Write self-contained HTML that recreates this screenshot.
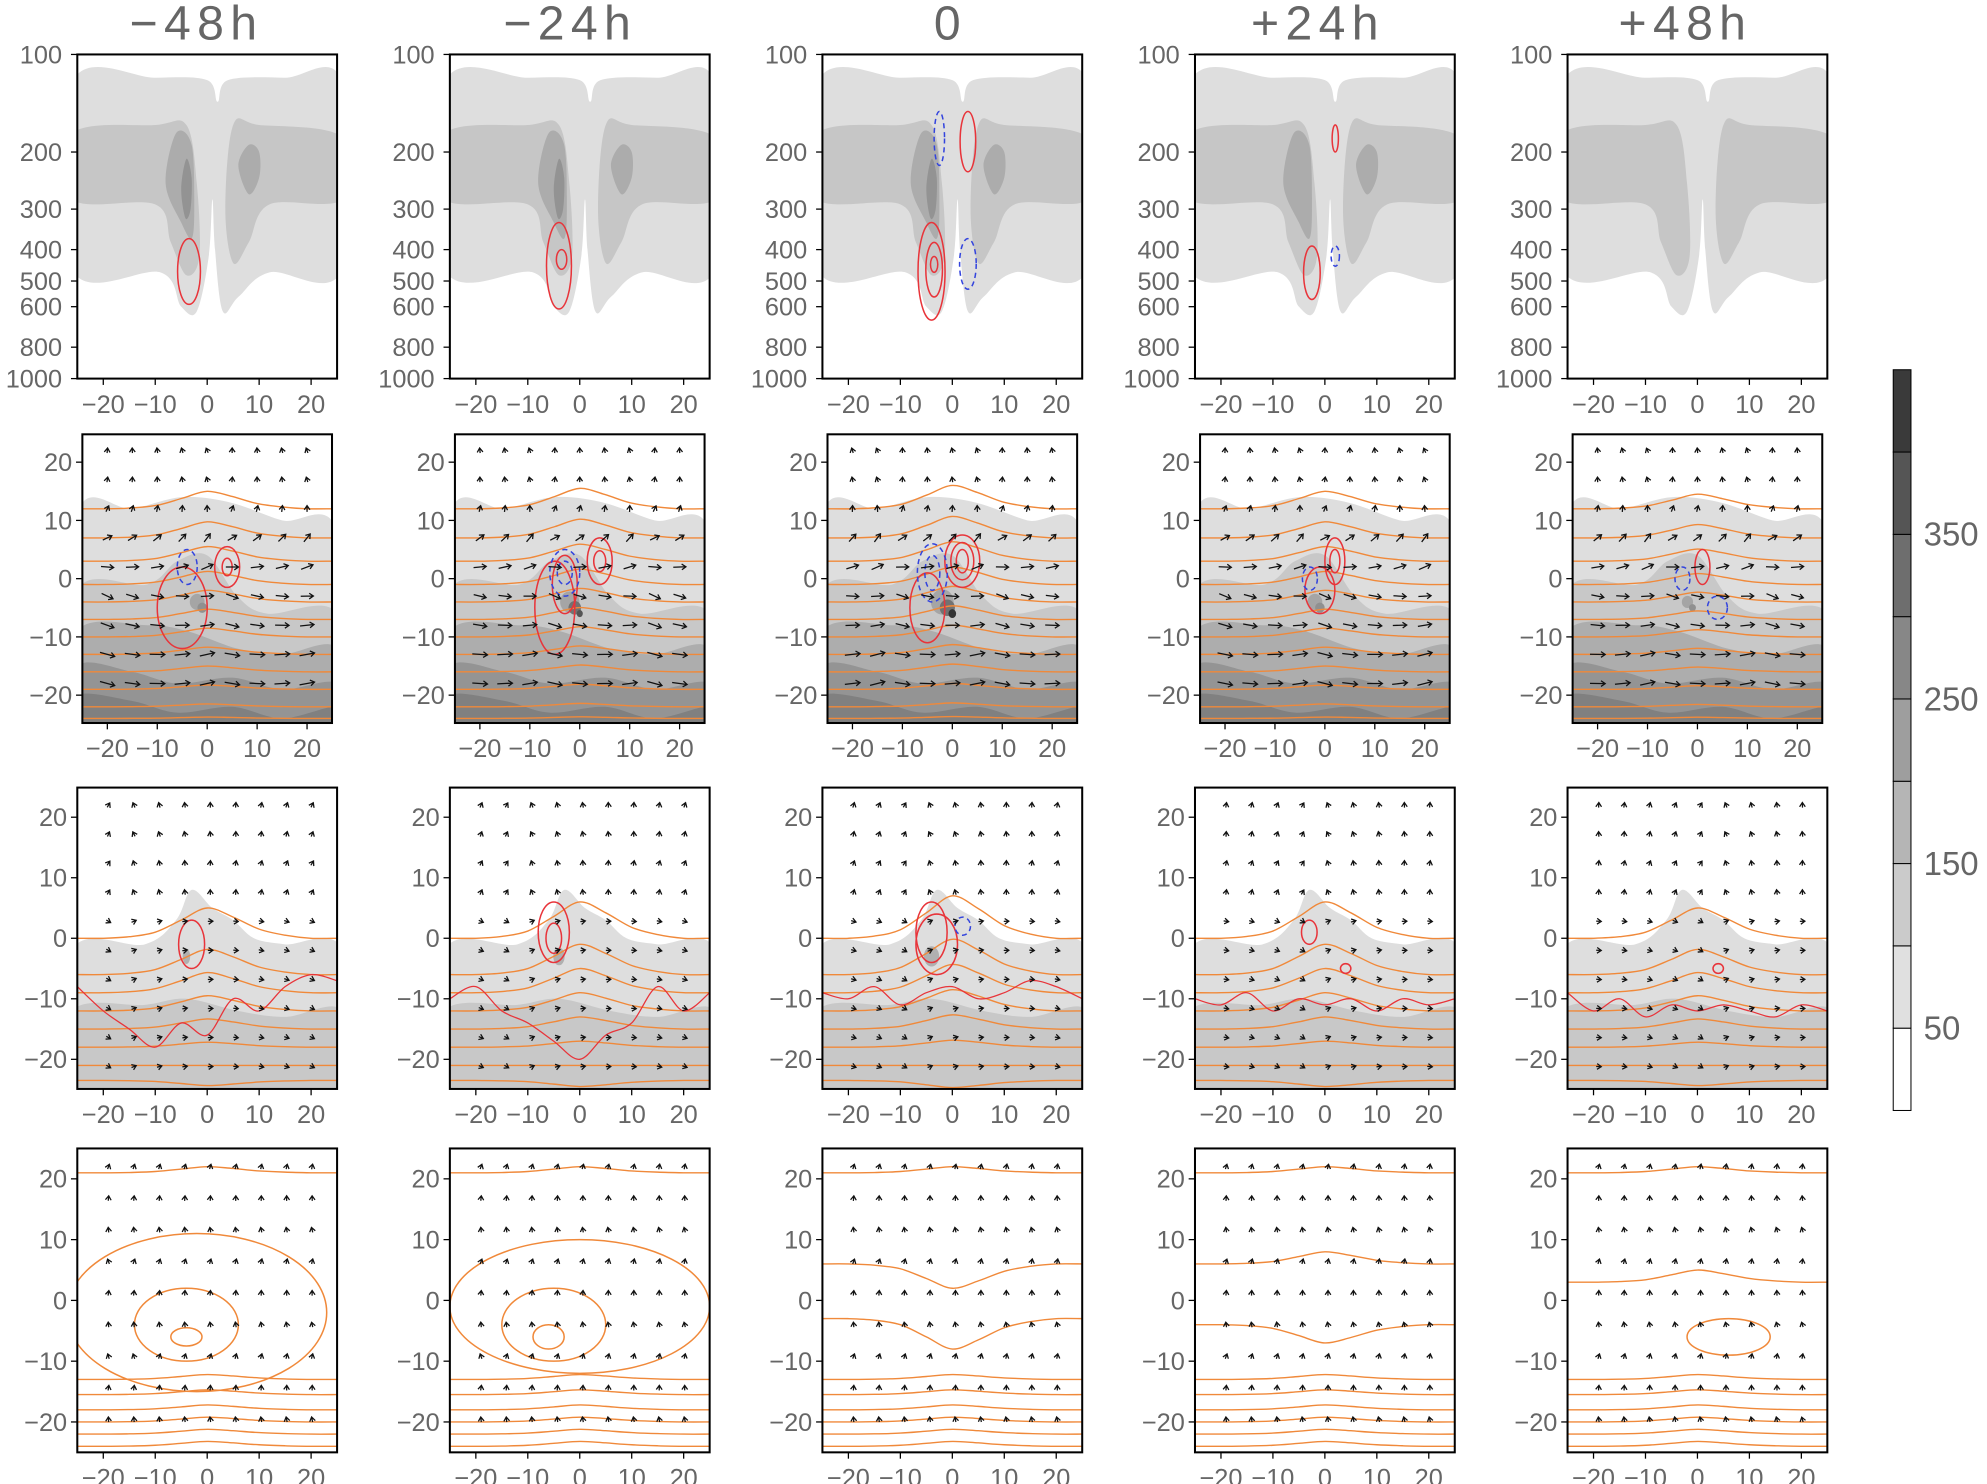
<!DOCTYPE html>
<html><head><meta charset="utf-8"><style>
html,body{margin:0;padding:0;background:#fff;width:1987px;height:1484px;overflow:hidden}
svg{display:block}
text{font-family:"Liberation Sans","DejaVu Sans",sans-serif;fill:#666}
</style></head><body>
<svg id="fig" xmlns="http://www.w3.org/2000/svg" width="1987" height="1484" viewBox="0 0 1568 1172" preserveAspectRatio="none"></svg>
<script>
// ---------- data ----------
const titles = ["\u221248h","\u221224h","0","+24h","+48h"];
const pressureTicks = [100,200,300,400,500,600,800,1000];
const xTicks = [-20,-10,0,10,20];
const xTickLabels = ["\u221220","\u221210","0","10","20"];
const yTicks = [20,10,0,-10,-20];
const yTickLabels = ["20","10","0","\u221210","\u221220"];
const cbLevels = [50,150,250,350];
const cbShades = ["#ffffff","#e0e0e0","#cbcbcb","#b5b5b5","#9e9e9e","#878787","#6e6e6e","#555555","#3a3a3a"];
const r1Core = [0.8,0.9,1.0,0.6,0.0];
const r1Red = [
 [[-3.5,370,590,2.2]],
 [[-4,330,610,2.4],[-3.5,400,460,1]],
 [[-4,330,660,2.6],[-3.5,380,560,1.6],[-3.5,420,470,0.7],[3,150,230,1.5]],
 [[-2.5,390,570,1.6],[2,165,200,0.6]],
 []
];
const r1Blue = [[],[],[[-2.5,150,220,1],[3,370,530,1.6]],[[2,390,450,0.8]],[]];
const r2Blob = [0.55,0.8,1.0,0.55,0.35];
const r2Levels = [12,7,3,-1,-4,-7,-10,-13,-16,-19,-22,-24];
const r2Amp = [3,3.5,4,3,2.5];
const bumpX = [-25,-20,-15,-10,-5,0,5,10,15,20,25];
const bumpProfile = [0,0,0.05,0.2,0.6,1,0.7,0.3,0.1,0,0];
const r2Red = [
 [[4,2,2.5,3.5],[4,2,1,1.5],[-5,-5,5,7]],
 [[4,3,2.5,4],[4,3,1.2,1.8],[-5,-5,4,8],[-3,-1,2.5,5]],
 [[2,3,3.5,4.5],[2,3,2.3,3.2],[2,3,1.2,2],[-5,-5,3.5,6]],
 [[2,3,2,4],[2,3,1,2],[-1,-2,3,4]],
 [[1,2,1.5,3]]
];
const r2Blue = [[[-4,2,2,3]],[[-3,1,3,4],[-3,1,1.5,2]],[[-4,1,3,5],[-4,1,1.5,3]],[[-3,0,1.5,2]],[[-3,0,1.5,2],[4,-5,2,2]]];
const r2Angles = [100,95,80,40,10,-10,-5,0,0];
const r2Len = [4,4,5,8,10,10,11,12,12];
const r3Levels = [0,-6,-9,-12,-15,-18,-21,-23.5];
const r3Amp = [5,6,7,6,5];
const r3Red = [[[-3,-1,2.5,4]],[[-5,1,3,5],[-5,0,1.5,2.5]],[[-4,1,3,5],[-3,-1,4,5]],[[-3,1,1.5,2],[4,-5,1,0.8]],[[4,-5,1,0.8]]];
const r3Blue = [[],[],[[2,2,1.5,1.5]],[],[]];
const r3Angles = [90,95,85,90,0,0,0,0,0,0];
const r3WigX = [-25,-20,-15,-10,-5,0,5,10,15,20,25];
const r3WigY = [
 [-8,-12,-15,-18,-14,-16,-10,-12,-8,-6,-7],
 [-10,-8,-12,-14,-17,-20,-16,-14,-8,-12,-9],
 [-9,-10,-8,-11,-9,-8,-10,-9,-7,-8,-10],
 [-10,-11,-9,-12,-10,-11,-10,-12,-10,-11,-10],
 [-9,-12,-10,-13,-11,-12,-11,-12,-13,-11,-12]
];
const r4Levels = [21,-13,-15.5,-18,-20,-22,-24];
const r4Loops = [
 [[-4,-6,3,1.5],[-4,-4,10,6],[-2,-2,25,13]],
 [[-6,-6,3,2],[-5,-4,10,6],[0,-1,25,11]],
 [],
 [],
 [[6,-6,8,3]]
];
const r4Waves = [
 [],
 [],
 [[6,4],[-3,5]],
 [[6,-2],[-4,3]],
 [[3,-2]]
];
const r4Angles = [90,90,90,90,90,90,90,90,90];

// ---------- helpers ----------
const NS="http://www.w3.org/2000/svg";
const svg=document.getElementById('fig');
function mk(tag,parent){const e=document.createElementNS(NS,tag);parent.appendChild(e);return e;}
function smooth(pts,closed){
  if(closed){pts=pts.concat([pts[0]]);}
  let d="M"+pts[0][0].toFixed(1)+","+pts[0][1].toFixed(1);
  for(let i=0;i<pts.length-1;i++){
    const p0=pts[i-1]||(closed?pts[pts.length-2]:pts[i]),p1=pts[i],p2=pts[i+1],p3=pts[i+2]||(closed?pts[1]:p2);
    d+="C"+(p1[0]+(p2[0]-p0[0])/6).toFixed(1)+","+(p1[1]+(p2[1]-p0[1])/6).toFixed(1)+" "+(p2[0]-(p3[0]-p1[0])/6).toFixed(1)+","+(p2[1]-(p3[1]-p1[1])/6).toFixed(1)+" "+p2[0].toFixed(1)+","+p2[1].toFixed(1);
  }
  return d+(closed?"Z":"");
}
function txt(parent,x,y,s,size,anchor){const t=mk('text',parent);t.setAttribute('x',x);t.setAttribute('y',y);t.setAttribute('font-size',size);t.setAttribute('text-anchor',anchor);t.textContent=s;return t;}
function ell(parent,cx,cy,rx,ry,col,dash){const e=mk('ellipse',parent);e.setAttribute('cx',cx);e.setAttribute('cy',cy);e.setAttribute('rx',Math.abs(rx));e.setAttribute('ry',Math.abs(ry));e.setAttribute('fill','none');e.setAttribute('stroke',col);e.setAttribute('stroke-width',1.2);if(dash)e.setAttribute('stroke-dasharray','4 3');return e;}
function chevron(parent,x,y,ang,len){
  const a=-ang*Math.PI/180;
  const tx=x+Math.cos(a)*len/2,ty=y+Math.sin(a)*len/2,bx=x-Math.cos(a)*len/2,by=y-Math.sin(a)*len/2;
  const h=4,w=0.6;
  const l1=[tx-h*Math.cos(a-w),ty-h*Math.sin(a-w)],l2=[tx-h*Math.cos(a+w),ty-h*Math.sin(a+w)];
  const p=mk('path',parent);
  p.setAttribute('d',`M${bx.toFixed(1)},${by.toFixed(1)}L${tx.toFixed(1)},${ty.toFixed(1)}M${l1[0].toFixed(1)},${l1[1].toFixed(1)}L${tx.toFixed(1)},${ty.toFixed(1)}L${l2[0].toFixed(1)},${l2[1].toFixed(1)}`);
  p.setAttribute('stroke','#111');p.setAttribute('stroke-width',1);p.setAttribute('fill','none');
  return p;
}

const titleX=[155,450,750,1040,1330];
titles.forEach((t,c)=>{
  const e=txt(svg,titleX[c],31,t,38,'middle');
  e.setAttribute('letter-spacing','5');
  
  
});

function frame(g,left,top,w,h){
  const r=mk('rect',g);r.setAttribute('x',left);r.setAttribute('y',top);r.setAttribute('width',w);r.setAttribute('height',h);r.setAttribute('fill','none');r.setAttribute('stroke','#000');r.setAttribute('stroke-width',1.6);
  
  
}
function xAxis(g,xs,bottom){
  xTicks.forEach((v,i)=>{
    const l=mk('line',g);l.setAttribute('x1',xs(v));l.setAttribute('x2',xs(v));l.setAttribute('y1',bottom);l.setAttribute('y2',bottom+5);l.setAttribute('stroke','#000');
    const t=txt(g,xs(v),bottom+27,xTickLabels[i],20,'middle');
    
    
  });
}
function yAxis(g,ys,left){
  yTicks.forEach((v,i)=>{
    const l=mk('line',g);l.setAttribute('x1',left-5);l.setAttribute('x2',left);l.setAttribute('y1',ys(v));l.setAttribute('y2',ys(v));l.setAttribute('stroke','#000');
    const t=txt(g,left-8,ys(v)+7,yTickLabels[i],20,'end');
    
    
  });
}
function clip(id,left,top,w,h){
  const cp=mk('clipPath',svg);cp.setAttribute('id',id);
  const r=mk('rect',cp);r.setAttribute('x',left);r.setAttribute('y',top);r.setAttribute('width',w);r.setAttribute('height',h);
}
function fillPath(g,pts,col){const p=mk('path',g);p.setAttribute('d',smooth(pts,true));p.setAttribute('fill',col);p.setAttribute('stroke','none');return p;}
function line(g,pts,col,wd){const p=mk('path',g);p.setAttribute('d',smooth(pts,false));p.setAttribute('fill','none');p.setAttribute('stroke',col);p.setAttribute('stroke-width',wd||1.1);return p;}

// ---------- row 1 ----------
for(let c=0;c<5;c++){
  const left=61+294*c,top=43,w=205,h=256;
  const xs=x=>left+102.5+x*4.1, ys=p=>top+(Math.log10(p)-2)*256;
  clip('c1'+c,left,top,w,h);
  const g=mk('g',svg);
  const s=mk('g',g);s.setAttribute('clip-path','url(#c1'+c+')');
  const P=(x,p)=>[xs(x),ys(p)];
  fillPath(s,[P(-26,122),P(-10,118),P(0,120),P(2,140),P(4,120),P(15,118),P(26,122),P(26,460),P(12,470),P(6,560),P(3,620),P(1.5,400),P(1,280),P(0.3,420),P(-2,620),P(-5,600),P(-9,470),P(-26,460)],'#dedede');
  fillPath(s,[P(-26,175),P(-10,165),P(-4,165),P(-2,250),P(-1.5,420),P(-4,480),P(-7,380),P(-10,290),P(-26,280)],'#c6c6c6');
  fillPath(s,[P(5,165),P(10,165),P(26,180),P(26,280),P(12,290),P(8,380),P(5,440),P(3.5,300)],'#c6c6c6');
  if(r1Core[c]>0){
    const k=r1Core[c];
    fillPath(s,[P(-6,175),P(-3,190),P(-2.5,300),P(-3,370),P(-5,330),P(-8,250)],'#acacac');
    fillPath(s,[P(-4,210),P(-3,240),P(-3.2,300),P(-4.2,320),P(-5,260)],k>0.7?'#939393':'#acacac');
    fillPath(s,[P(6,220),P(8,190),P(10,200),P(10,240),P(8,270)],'#acacac');
  }
  r1Red[c].forEach(e=>{const r=ell(s,xs(e[0]),(ys(e[1])+ys(e[2]))/2,e[3]*4.1,(ys(e[2])-ys(e[1]))/2,'#e8343a');});
  r1Blue[c].forEach(e=>{const r=ell(s,xs(e[0]),(ys(e[1])+ys(e[2]))/2,e[3]*4.1,(ys(e[2])-ys(e[1]))/2,'#3344dd',true);});
  frame(g,left,top,w,h);
  xAxis(g,xs,top+h);
  pressureTicks.forEach(p=>{
    const l=mk('line',g);l.setAttribute('x1',left-5);l.setAttribute('x2',left);l.setAttribute('y1',ys(p));l.setAttribute('y2',ys(p));l.setAttribute('stroke','#000');
    const t=txt(g,left-12,ys(p)+7,String(p),20,'end');
    
    
  });
}

// ---------- row 2 ----------
for(let c=0;c<5;c++){
  const left=65+294*c,top=343,w=197,h=228;
  const xs=x=>left+98.5+x*3.94, ys=y=>457-y*4.6;
  clip('c2'+c,left,top,w,h);
  const g=mk('g',svg);
  const s=mk('g',g);s.setAttribute('clip-path','url(#c2'+c+')');
  const P=(x,y)=>[xs(x),ys(y)];
  fillPath(s,[P(-26,11),P(-15,12),P(-5,14),P(5,13),P(15,10),P(26,8),P(26,-26),P(-26,-26)],'#dedede');
  fillPath(s,[P(-26,-2),P(-12,-1),P(-6,3),P(0,4),P(6,-3),P(12,-6),P(26,-6),P(26,-26),P(-26,-26)],'#c8c8c8');
  fillPath(s,[P(-26,-9),P(-12,-8),P(-4,-9),P(6,-12),P(15,-13),P(26,-12),P(26,-26),P(-26,-26)],'#adadad');
  fillPath(s,[P(-26,-15),P(-15,-16),P(-6,-18),P(5,-17),P(15,-19),P(26,-18),P(26,-26),P(-26,-26)],'#949494');
  fillPath(s,[P(-26,-20),P(-15,-21),P(-6,-23),P(5,-22),P(15,-24),P(26,-22),P(26,-26),P(-26,-26)],'#808080');
  const k=r2Blob[c];
  ell(s,xs(-2),ys(-4),7*k+2,8*k+2,'none').setAttribute('fill','#a5a5a5');
  ell(s,xs(-1),ys(-5),5*k+1,5.5*k+1,'none').setAttribute('fill',k>0.7?'#727272':'#909090');
  if(k>0.7){ell(s,xs(0),ys(-6),3*k,3.5*k,'none').setAttribute('fill',k>0.9?'#333':'#555');}
  r2Levels.forEach((lv,i)=>{
    const pts=bumpX.map((x,j)=>P(x,lv+r2Amp[c]*bumpProfile[j]*(1-i/12)));
    const l=line(s,pts,'#f0893a');
    
    
  });
  r2Red[c].forEach(e=>{const r=ell(s,xs(e[0]),ys(e[1]),e[2]*3.94,e[3]*4.6,'#e8343a');});
  r2Blue[c].forEach(e=>{const r=ell(s,xs(e[0]),ys(e[1]),e[2]*3.94,e[3]*4.6,'#3344dd',true);});
  for(let j=0;j<9;j++)for(let i=0;i<9;i++){
    const a=chevron(s,xs(-20+i*5),ys(22-j*5),r2Angles[j]+((i*37+c*11)%30-15),r2Len[j]);
    
    
  }
  frame(g,left,top,w,h);xAxis(g,xs,top+h);yAxis(g,ys,left);
}

// ---------- row 3 ----------
for(let c=0;c<5;c++){
  const left=61+294*c,top=622,w=205,h=238;
  const xs=x=>left+102.5+x*4.1, ys=y=>741-y*4.78;
  clip('c3'+c,left,top,w,h);
  const g=mk('g',svg);
  const s=mk('g',g);s.setAttribute('clip-path','url(#c3'+c+')');
  const P=(x,y)=>[xs(x),ys(y)];
  fillPath(s,[P(-26,-2),P(-12,-1),P(-6,3),P(-3,8),P(1,5),P(5,3),P(9,0),P(15,-1),P(26,-2),P(26,-26),P(-26,-26)],'#dedede');
  fillPath(s,[P(-26,-12),P(-12,-11),P(-4,-10),P(6,-12),P(15,-13),P(26,-12),P(26,-26),P(-26,-26)],'#c8c8c8');
  if(c<3){ell(s,xs(-4),ys(-3),3+c*1.5,6+c,'none').setAttribute('fill','#b0b0b0');}
  r3Levels.forEach((lv,i)=>{
    const pts=bumpX.map((x,j)=>P(x,lv+r3Amp[c]*bumpProfile[j]*(1-i/6)));
    const l=line(s,pts,'#f0893a');
    
    
  });
  const wig=line(s,r3WigX.map((x,j)=>P(x,r3WigY[c][j])),'#e8343a',1);
  
  
  r3Red[c].forEach(e=>{const r=ell(s,xs(e[0]),ys(e[1]),e[2]*4.1,e[3]*4.78,'#e8343a');});
  r3Blue[c].forEach(e=>{const r=ell(s,xs(e[0]),ys(e[1]),e[2]*4.1,e[3]*4.78,'#3344dd',true);});
  for(let j=0;j<10;j++)for(let i=0;i<9;i++){
    const a=chevron(s,xs(-19+i*4.9),ys(22-j*4.8),r3Angles[j]+((i*53+c*7)%60-30),4);
    
    
  }
  frame(g,left,top,w,h);xAxis(g,xs,top+h);yAxis(g,ys,left);
}

// ---------- row 4 ----------
for(let c=0;c<5;c++){
  const left=61+294*c,top=907,w=205,h=240;
  const xs=x=>left+102.5+x*4.1, ys=y=>1027-y*4.8;
  clip('c4'+c,left,top,w,h);
  const g=mk('g',svg);
  const s=mk('g',g);s.setAttribute('clip-path','url(#c4'+c+')');
  const P=(x,y)=>[xs(x),ys(y)];
  r4Levels.forEach((lv,i)=>{
    const pts=bumpX.map((x,j)=>P(x,lv+(i===0?1:0.8)*bumpProfile[j]));
    const l=line(s,pts,'#f0893a');
    
    
  });
  r4Waves[c].forEach(wv=>{
    const pts=bumpX.map((x,j)=>P(x,wv[0]-wv[1]*bumpProfile[j]));
    const l=line(s,pts,'#f0893a');
    
    
  });
  r4Loops[c].forEach(e=>{const r=ell(s,xs(e[0]),ys(e[1]),e[2]*4.1,e[3]*4.8,'#f0893a');});
  for(let j=0;j<9;j++)for(let i=0;i<9;i++){
    const a=chevron(s,xs(-19+i*4.9),ys(22-j*5.2),r4Angles[j]+((i*41+j*13+c)%40-20),4);
    
    
  }
  frame(g,left,top,w,h);xAxis(g,xs,top+h);yAxis(g,ys,left);
}

// ---------- colorbar ----------
const cb=mk('g',svg);


const cbTop=292,cbSeg=65;
cbShades.forEach((col,i)=>{
  const r=mk('rect',cb);r.setAttribute('x',1494);r.setAttribute('y',cbTop+(8-i)*cbSeg);r.setAttribute('width',14);r.setAttribute('height',cbSeg);r.setAttribute('fill',col);r.setAttribute('stroke','#000');r.setAttribute('stroke-width',0.8);
  
  
});
cbLevels.forEach((v,i)=>{
  const y=cbTop+(8-2*i)*cbSeg;
  const t=txt(cb,1518,y+9,String(v),26,'start');
  
  
});
</script>
</body></html>
